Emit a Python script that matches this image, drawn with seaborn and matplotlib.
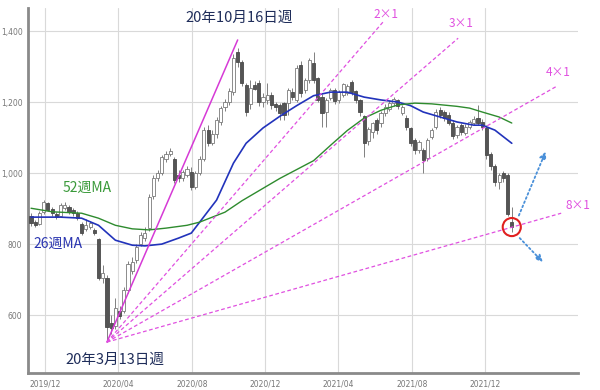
import numpy as np
import pandas as pd
import matplotlib
matplotlib.use("Agg")
import matplotlib.pyplot as plt
import matplotlib.dates as mdates
import matplotlib.transforms as mtransforms
import seaborn as sns

# weekly candles, week ending on Friday
first_week = "2019-11-08"
opens = [879, 862, 858, 890, 915, 900, 885, 880, 902, 905, 897, 887, 856, 843, 848, 840,
         814, 705, 704, 577, 570, 612, 612, 670, 724, 755, 800, 817, 845, 935, 986, 1000,
         1040, 1055, 1040, 995, 985, 995, 1003, 962, 1000, 1040, 1120, 1085, 1110, 1143, 1185, 1200,
         1228, 1340, 1313, 1248, 1195, 1248, 1254, 1200, 1205, 1220, 1195, 1192, 1197, 1197, 1228, 1206,
         1304, 1234, 1262, 1310, 1268, 1215, 1172, 1211, 1234, 1205, 1220, 1225, 1256, 1230, 1206, 1160,
         1090, 1115, 1150, 1141, 1169, 1180, 1197, 1206, 1170, 1155, 1127, 1093, 1065, 1065, 1042, 1101,
         1130, 1177, 1172, 1165, 1141, 1107, 1135, 1113, 1130, 1141, 1155, 1145, 1127, 1055, 1020, 975,
         1000, 995, 862]
highs = [888, 868, 893, 925, 920, 905, 890, 915, 918, 910, 902, 892, 862, 870, 866, 846,
         818, 740, 712, 600, 648, 625, 680, 752, 765, 800, 835, 848, 940, 995, 1008, 1050,
         1062, 1072, 1045, 1008, 1010, 1020, 1018, 1005, 1048, 1130, 1135, 1120, 1158, 1190, 1210, 1240,
         1335, 1352, 1318, 1255, 1262, 1258, 1262, 1225, 1255, 1228, 1200, 1198, 1200, 1240, 1240, 1305,
         1315, 1268, 1325, 1340, 1272, 1222, 1212, 1240, 1240, 1235, 1255, 1250, 1262, 1235, 1210, 1165,
         1130, 1145, 1155, 1175, 1195, 1205, 1215, 1210, 1192, 1165, 1130, 1098, 1092, 1070, 1100, 1128,
         1180, 1185, 1178, 1172, 1150, 1135, 1140, 1138, 1150, 1160, 1192, 1152, 1135, 1060, 1025, 1000,
         1005, 1000, 905]
lows = [852, 848, 853, 885, 892, 880, 870, 875, 896, 885, 880, 868, 826, 838, 842, 826,
        698, 690, 524, 548, 560, 590, 605, 662, 715, 748, 795, 810, 838, 928, 978, 995,
        1030, 1048, 972, 975, 978, 988, 952, 955, 995, 1035, 1075, 1078, 1100, 1135, 1175, 1192,
        1220, 1300, 1245, 1160, 1180, 1235, 1190, 1185, 1195, 1180, 1175, 1150, 1150, 1165, 1205, 1200,
        1215, 1225, 1255, 1255, 1200, 1130, 1130, 1205, 1195, 1198, 1215, 1220, 1220, 1198, 1160, 1045,
        1080, 1100, 1110, 1130, 1160, 1175, 1190, 1180, 1165, 1120, 1075, 1055, 1058, 1000, 1035, 1095,
        1125, 1155, 1148, 1135, 1095, 1100, 1108, 1108, 1125, 1136, 1136, 1122, 1040, 1010, 965, 955,
        975, 878, 835]
closes = [859, 855, 887, 918, 897, 887, 876, 910, 910, 890, 887, 873, 831, 853, 860, 831,
          704, 718, 566, 563, 620, 598, 672, 745, 750, 792, 826, 832, 932, 986, 1000, 1045,
          1055, 1062, 980, 985, 1003, 1012, 961, 1000, 1040, 1120, 1085, 1110, 1150, 1183, 1200, 1230,
          1325, 1313, 1254, 1172, 1240, 1238, 1200, 1215, 1220, 1192, 1185, 1169, 1165, 1234, 1214, 1296,
          1225, 1262, 1318, 1262, 1206, 1169, 1206, 1234, 1203, 1228, 1250, 1245, 1228, 1205, 1172, 1084,
          1125, 1140, 1121, 1169, 1186, 1197, 1208, 1190, 1186, 1130, 1084, 1065, 1087, 1037, 1093, 1121,
          1172, 1163, 1155, 1141, 1105, 1130, 1115, 1130, 1144, 1152, 1141, 1130, 1051, 1020, 975, 995,
          985, 885, 848]

# moving averages (week index, value)
ma26_weeks = [0, 7, 12, 16, 20, 24, 27, 31, 35, 38, 40, 44, 48, 51, 55, 59,
              63, 67, 71, 75, 79, 83, 87, 90, 93, 97, 101, 105, 107, 110, 114]
ma26_values = [876, 876, 873, 853, 811, 797, 795, 800, 817, 831, 862, 924, 1028, 1084, 1127, 1160,
               1190, 1218, 1228, 1228, 1214, 1206, 1200, 1190, 1172, 1158, 1144, 1135, 1135, 1121, 1084]
ma52_weeks = [0, 5, 12, 16, 20, 24, 28, 32, 37, 40, 46, 50, 54, 59, 67, 71,
              75, 79, 83, 87, 91, 95, 101, 104, 107, 111, 114]
ma52_values = [901, 891, 887, 873, 853, 843, 840, 845, 853, 862, 890, 922, 950, 985, 1035, 1078,
               1120, 1155, 1177, 1192, 1197, 1195, 1188, 1183, 1172, 1158, 1141]

# Gann fan from the March 2020 low
fan_origin_date = "2020-03-13"
fan_origin_price = 524
fan_labels = ["", "2×1", "3×1", "4×1", "8×1"]
fan_end_dates = ["2020-10-16", "2021-06-14", "2021-10-17", "2022-03-30", "2022-04-06"]
fan_end_prices = [1375, 1425, 1380, 1245, 887]

x_ticks = ["2019-12-01", "2020-04-01", "2020-08-01", "2020-12-01",
           "2021-04-01", "2021-08-01", "2021-12-01"]
y_ticks = [600, 800, 1000, 1200, 1400]

sns.set_style("whitegrid")
plt.rcParams["font.family"] = ["Noto Sans CJK JP", "DejaVu Sans"]

dates = pd.date_range(first_week, periods=len(opens), freq="W-FRI")
df = pd.DataFrame({"open": opens, "high": highs, "low": lows, "close": closes}, index=dates)
up = df["close"] >= df["open"]
dn = ~up

fig = plt.figure(figsize=(6, 3.9), dpi=100)
ax = fig.add_axes([0.0467, 0.0436, 0.9167, 0.9359])

# candles
ax.vlines(df.index, df["low"], df["high"], color="#808080", lw=0.7, zorder=2)
ax.bar(df.index[up], (df["close"] - df["open"])[up], bottom=df["open"][up], width=5.2,
       color="white", edgecolor="#7a7a7a", lw=0.6, zorder=3)
ax.bar(df.index[dn], (df["open"] - df["close"])[dn], bottom=df["close"][dn], width=5.2,
       color="#555555", edgecolor="#4a4a4a", lw=0.6, zorder=3)

# moving averages
sns.lineplot(x=dates[ma26_weeks], y=ma26_values, ax=ax, color="#2233bb", lw=1.2, zorder=4)
sns.lineplot(x=dates[ma52_weeks], y=ma52_values, ax=ax, color="#2e8b2e", lw=1.0, zorder=4)

# fan lines
o_date = pd.Timestamp(fan_origin_date)
for i, (lab, d, p) in enumerate(zip(fan_labels, fan_end_dates, fan_end_prices)):
    d = pd.Timestamp(d)
    if i == 0:
        ax.plot([o_date, d], [fan_origin_price, p], color="#d63ad6", lw=1.1, zorder=5)
    else:
        ax.plot([o_date, d], [fan_origin_price, p], color="#e050e0", lw=0.9,
                ls=(0, (3, 2)), zorder=5)

label_offsets = {"2×1": (3, 8), "3×1": (3, 15), "4×1": (1, 14), "8×1": (17, 8)}
for lab, d, p in zip(fan_labels, fan_end_dates, fan_end_prices):
    if lab:
        ax.annotate(lab, xy=(pd.Timestamp(d), p), xytext=label_offsets[lab],
                    textcoords="offset pixels", ha="center", va="center",
                    color="#e050e0", fontsize=8.5)

ax.annotate("20年10月16日週", xy=(pd.Timestamp(fan_end_dates[0]), fan_end_prices[0]),
            xytext=(2, 22), textcoords="offset pixels", ha="center", va="center",
            color="#1f2d5a", fontsize=10.5)
ax.annotate("20年3月13日週", xy=(o_date, fan_origin_price),
            xytext=(8, -18), textcoords="offset pixels", ha="center", va="center",
            color="#1f2d5a", fontsize=10.5)
ax.text(0.107, 0.507, "52週MA", transform=ax.transAxes, ha="center", va="center",
        color="#3a9a3a", fontsize=10)
ax.text(0.0545, 0.353, "26週MA", transform=ax.transAxes, ha="center", va="center",
        color="#2a35b0", fontsize=10)

# red circle and arrows on the latest week
last_d, last_p = dates[-1], closes[-1]
last_x = mdates.date2num(last_d)
ax.scatter([last_d], [last_p], s=170, facecolors="none", edgecolors="#e02020", lw=1.5, zorder=6)
for start, end in [((6, 9), (35, 78)), ((6, -9), (33, -37))]:
    t0 = mtransforms.offset_copy(ax.transData, fig=fig, x=start[0], y=start[1], units="dots")
    t1 = mtransforms.offset_copy(ax.transData, fig=fig, x=end[0], y=end[1], units="dots")
    ax.annotate("", xy=(last_x, last_p), xycoords=t1, xytext=(last_x, last_p), textcoords=t0,
                arrowprops=dict(arrowstyle="-|>", color="#4a90d9", lw=1.3,
                                linestyle=(0, (1, 1.5)), mutation_scale=10), zorder=6)

# axes styling
ax.set_xlim(pd.Timestamp("2019-11-03"), pd.Timestamp("2022-05-04"))
ax.set_ylim(437, 1465)
ax.set_xticks(pd.to_datetime(x_ticks))
ax.xaxis.set_major_formatter(mdates.DateFormatter("%Y/%m"))
ax.set_yticks(y_ticks)
ax.set_yticklabels([f"{v:,}" for v in y_ticks])
ax.tick_params(axis="both", length=0, labelsize=5.5, labelcolor="#777777")
ax.tick_params(axis="x", pad=5)
ax.tick_params(axis="y", pad=4)
for lbl in ax.get_xticklabels() + ax.get_yticklabels():
    lbl.set_family("DejaVu Sans")
ax.grid(True, color="#d9d9d9", lw=0.8)
for side in ["top", "right"]:
    ax.spines[side].set_visible(False)
for side in ["left", "bottom"]:
    ax.spines[side].set_color("#8a8a8a")
    ax.spines[side].set_linewidth(2)
ax.set_xlabel("")
ax.set_ylabel("")

fig.savefig("out.png", dpi=100)
